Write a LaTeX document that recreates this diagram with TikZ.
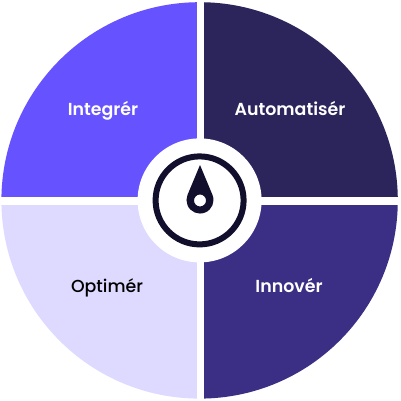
\documentclass[tikz,border=0pt]{standalone}
\usepackage{fontspec}
\setmainfont{Poppins}[UprightFont=* Medium,BoldFont=* SemiBold]
\definecolor{qviolet}{HTML}{6653FF}
\definecolor{qnavy}{HTML}{2C255C}
\definecolor{qlilac}{HTML}{DDD9FF}
\definecolor{qindigo}{HTML}{3A2E85}
\definecolor{qink}{HTML}{120F2D}
\tikzset{
  qlabel/.style={font=\fontsize{17.4}{20}\selectfont, anchor=base, inner sep=0pt},
  qlight/.style={qlabel, text=white},
  qdark/.style={qlabel, text=black},
}
\begin{document}
\begin{tikzpicture}[x=1pt,y=1pt]
\useasboundingbox (0,0) rectangle (400,401);
\fill[white] (0,0) rectangle (400,401);
\coordinate (c) at (199.6,200.6);
\begin{scope}
  \clip (c) circle (198.2);
  \fill[qviolet] (0,204.2) rectangle (196.7,401);
  \fill[qnavy] (203.7,204.2) rectangle (400,401);
  \fill[qlilac] (0,0) rectangle (196.7,196.2);
  \fill[qindigo] (203.7,0) rectangle (400,196.2);
\end{scope}
\fill[white] (c) circle (62);
\draw[qink, line width=6pt] (c) circle (44);
\fill[qink, even odd rule] (200,236) -- (212.5,206) arc (22:-202:13.5) -- cycle
  (200,200.5) circle (6);
\node[qlight] (integrer) at (103,285) {\textbf{Integrér}};
\node[qlight] (automatiser) at (290,285) {\textbf{Automatisér}};
\node[qdark] (optimer) at (107,108.5) {Optimér};
\node[qlight] (innover) at (289,108.5) {\textbf{Innovér}};
\end{tikzpicture}
\end{document}
